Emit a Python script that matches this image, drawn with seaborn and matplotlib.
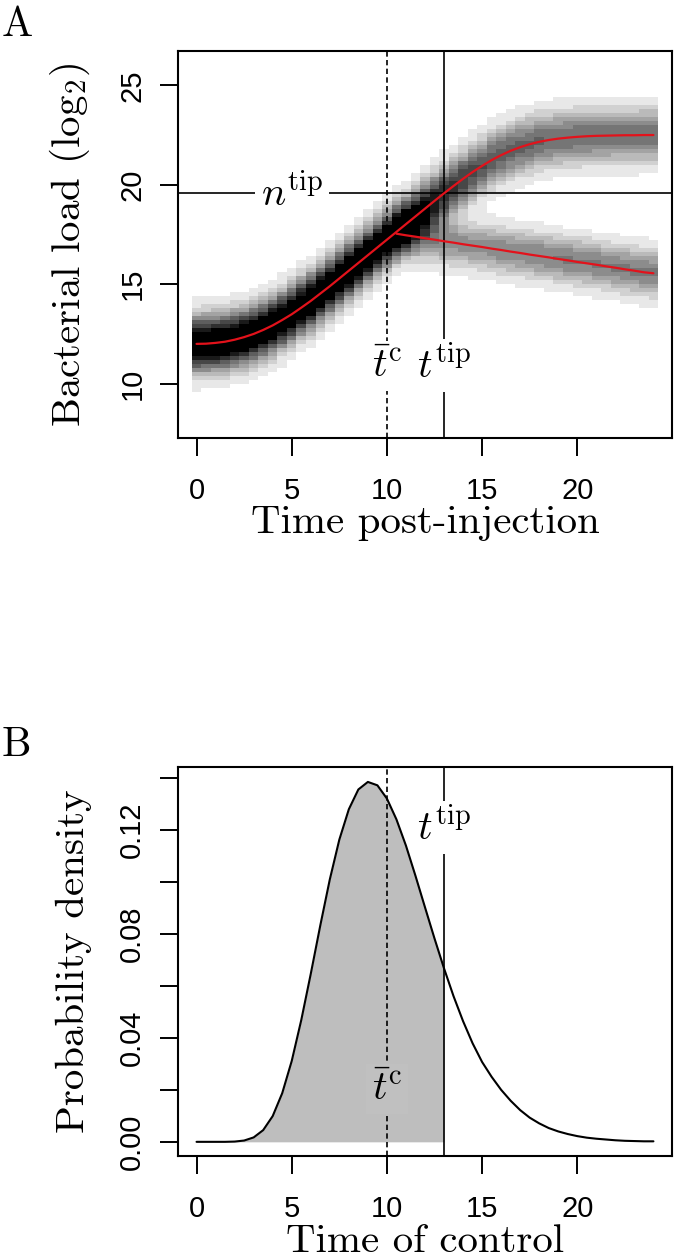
import numpy as np
import matplotlib
matplotlib.use("Agg")
import matplotlib.pyplot as plt
from matplotlib.colors import ListedColormap, BoundaryNorm
import seaborn as sns

# time grid of the simulation output (half steps, 0 .. 24)
time = np.arange(0, 24.5, 0.5)

# panel A: mean trajectory without control (log2 load), one value per time step
uncontrolled_load = [12.00, 12.01, 12.05, 12.11, 12.21, 12.34, 12.50, 12.70, 12.93, 13.20,
                     13.49, 13.82, 14.16, 14.53, 14.90, 15.29, 15.68, 16.07, 16.46, 16.85,
                     17.24, 17.63, 18.02, 18.41, 18.80, 19.19, 19.57, 19.94, 20.30, 20.64,
                     20.95, 21.24, 21.49, 21.71, 21.89, 22.04, 22.16, 22.25, 22.32, 22.37,
                     22.41, 22.44, 22.46, 22.47, 22.48, 22.49, 22.49, 22.50, 22.50]

# mean trajectory once control kicks in (t = 10.5 .. 24)
controlled_time = time[21:]
controlled_load = [17.54, 17.46, 17.39, 17.31, 17.24, 17.16, 17.09, 17.01, 16.94, 16.87,
                   16.79, 16.72, 16.64, 16.57, 16.49, 16.42, 16.35, 16.27, 16.20, 16.12,
                   16.05, 15.98, 15.90, 15.83, 15.75, 15.68, 15.60, 15.55]

# darkness of the simulated trajectory cloud around each mean curve
uncontrolled_peak = [1.32] * 21 + [1.28, 1.20, 1.12, 1.04, 0.96, 0.89, 0.84, 0.79, 0.75, 0.72,
                                   0.70, 0.68, 0.66, 0.65, 0.64, 0.63, 0.62, 0.62, 0.61, 0.61,
                                   0.61, 0.60, 0.60, 0.60, 0.59, 0.59, 0.59, 0.59]
controlled_peak = [0.25, 0.35, 0.42, 0.46, 0.48, 0.49, 0.48, 0.47, 0.47, 0.48,
                   0.49, 0.50, 0.51, 0.51, 0.52, 0.52, 0.52, 0.53, 0.53, 0.53,
                   0.53, 0.54, 0.54, 0.54, 0.54, 0.54, 0.55, 0.55]
uncontrolled_spread = 0.9
controlled_spread = 0.78

n_tip = 19.57
t_tip = 13
t_c_mean = 10

# panel B: density of the time of control
control_density = [0.0, 0.0, 0.0, 0.0, 0.0001, 0.0005, 0.0017, 0.0045, 0.0099, 0.0187,
                   0.0311, 0.0468, 0.0646, 0.0832, 0.1009, 0.1162, 0.1279, 0.1355, 0.1384, 0.1371,
                   0.1320, 0.1240, 0.1139, 0.1023, 0.0902, 0.0782, 0.0667, 0.0560, 0.0464, 0.0379,
                   0.0307, 0.0250, 0.0200, 0.0158, 0.0122, 0.0093, 0.0071, 0.0053, 0.0040, 0.0030,
                   0.0022, 0.0016, 0.0012, 0.0009, 0.0006, 0.0004, 0.0003, 0.0002, 0.0002]

sns.set_style("ticks")
plt.rcParams["font.family"] = ["Liberation Sans", "DejaVu Sans"]
plt.rcParams["mathtext.fontset"] = "cm"
plt.rcParams["text.color"] = "black"
plt.rcParams["axes.labelcolor"] = "black"
serif = "cmr10"

fig = plt.figure(figsize=(6.74, 12.59), dpi=100)
ax_a = fig.add_axes([0.2645, 0.6523, 0.7321, 0.3071])
ax_b = fig.add_axes([0.2645, 0.0817, 0.7321, 0.3090])

# ---- panel A: trajectory cloud
y_edges = np.arange(8, 26.01, 0.2)
y_mid = (y_edges[:-1] + y_edges[1:]) / 2
x_edges = np.append(time - 0.25, time[-1] + 0.25)
cloud = np.array(uncontrolled_peak)[None, :] * np.exp(
    -(y_mid[:, None] - np.array(uncontrolled_load)[None, :]) ** 2 / (2 * uncontrolled_spread ** 2))
cloud[:, 21:] += np.array(controlled_peak)[None, :] * np.exp(
    -(y_mid[:, None] - np.array(controlled_load)[None, :]) ** 2 / (2 * controlled_spread ** 2))

levels = np.linspace(0.05, 1.0, 11)
greys = ListedColormap([str(g) for g in np.linspace(0.91, 0.1, 10)] + ["black"])
norm = BoundaryNorm(levels, greys.N, extend="max")
ax_a.pcolormesh(x_edges, y_edges, np.ma.masked_less(cloud, 0.05), cmap=greys, norm=norm,
                shading="flat", antialiased=False, zorder=1)

dash = (0, (3.2, 2.0))
ax_a.axvline(t_c_mean, color="black", lw=1.2, ls=dash, zorder=3)
ax_a.axvline(t_tip, color="black", lw=1.2, zorder=3)
ax_a.axhline(n_tip, color="black", lw=1.2, zorder=3)

sns.lineplot(x=time, y=uncontrolled_load, color="#e3121b", lw=1.6, ax=ax_a, zorder=4)
sns.lineplot(x=controlled_time, y=controlled_load, color="#e3121b", lw=1.6, ax=ax_a, zorder=4)

white_box = dict(boxstyle="square,pad=0.15", fc="white", ec="none")
ax_a.text(5, n_tip, r"$n^{\mathrm{tip}}$", fontsize=29, ha="center", va="center", bbox=white_box, zorder=5)
ax_a.text(t_c_mean, 10.9, r"$\bar{t}^{\mathrm{c}}$", fontsize=29, ha="center", va="center", bbox=white_box, zorder=5)
ax_a.text(t_tip, 10.9, r"$t^{\mathrm{tip}}$", fontsize=29, ha="center", va="center", bbox=white_box, zorder=5)

ax_a.set_xlim(-0.96, 24.96)
ax_a.set_ylim(7.28, 26.72)
ax_a.set_yticks([10, 15, 20, 25])
ax_a.set_xlabel("Time post-injection", fontfamily=serif, fontsize=29.5, color="black")
ax_a.set_ylabel("Bacterial load (log$_2$)", fontfamily=serif, fontsize=29.5, color="black")

# ---- panel B: density of control time
ax_b.fill_between(time[:27], 0, control_density[:27], color="#bebebe", lw=0, zorder=1)
sns.lineplot(x=time, y=control_density, color="black", lw=1.5, ax=ax_b, zorder=4)
ax_b.axvline(t_c_mean, color="black", lw=1.2, ls=dash, zorder=3)
ax_b.axvline(t_tip, color="black", lw=1.2, zorder=3)
ax_b.text(t_tip, 0.1208, r"$t^{\mathrm{tip}}$", fontsize=29, ha="center", va="center", bbox=white_box, zorder=5)
ax_b.text(t_c_mean, 0.0203, r"$\bar{t}^{\mathrm{c}}$", fontsize=29, ha="center", va="center",
          bbox=dict(boxstyle="square,pad=0.15", fc="#c0c0c0", ec="none"), zorder=5)

ax_b.set_xlim(-0.96, 24.96)
ax_b.set_ylim(-0.0055, 0.1441)
ax_b.set_yticks(np.arange(0, 0.141, 0.02))
ax_b.set_yticklabels(["0.00", "", "0.04", "", "0.08", "", "0.12", ""])
ax_b.set_xlabel("Time of control", fontfamily=serif, fontsize=29.5, color="black")
ax_b.set_ylabel("Probability density", fontfamily=serif, fontsize=29.5, color="black")

for ax in (ax_a, ax_b):
    ax.set_xticks([0, 5, 10, 15, 20])
    ax.tick_params(direction="out", length=13, width=1.4, labelsize=21, color="black",
                   labelcolor="black")
    ax.tick_params(axis="x", pad=15)
    ax.tick_params(axis="y", pad=10)
    for lab in ax.get_yticklabels():
        lab.set_rotation(90)
        lab.set_va("center")
    for sp in ax.spines.values():
        sp.set_visible(True)
        sp.set_linewidth(1.5)
        sp.set_color("black")
    ax.xaxis.set_label_coords(0.5, -0.175)
    ax.yaxis.set_label_coords(-0.174, 0.5)

fig.text(0.002, 0.9714, "A", fontfamily=serif, fontsize=30, ha="left", va="baseline", color="black")
fig.text(0.002, 0.3998, "B", fontfamily=serif, fontsize=30, ha="left", va="baseline", color="black")

fig.savefig("out.png", dpi=100)
